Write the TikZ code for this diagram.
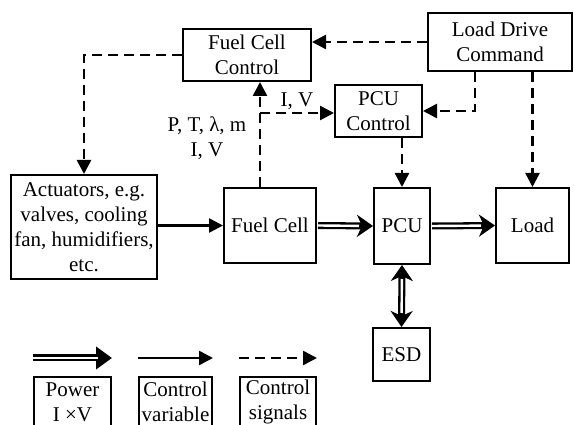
\documentclass[tikz,border=0pt]{standalone}
\usepackage{fontspec}
\setmainfont{Liberation Serif}
\usetikzlibrary{positioning,arrows.meta,calc}
\tikzset{
  node-box/.style={draw,line width=2pt,inner sep=2pt,align=center,
    font=\fontsize{21}{25}\selectfont},
  node-key/.style={node-box,minimum height=50pt},
  arrow-var/.style={-{Triangle[length=14pt,width=14pt]},line width=2.5pt},
  arrow-signal/.style={arrow-var,dash pattern=on 10pt off 6pt},
  % double shaft: thick black line, white core on top
  arrow-power/.style={line width=7pt,-{Stealth[length=16pt,width=22pt,inset=5pt]},
    postaction={draw=white,line width=2.4pt,-,shorten >=14pt,shorten <=0.1pt}},
  arrow-power-both/.style={line width=7pt,
    {Stealth[length=16pt,width=22pt,inset=5pt]}-{Stealth[length=16pt,width=22pt,inset=5pt]},
    postaction={draw=white,line width=2.4pt,-,shorten >=14pt,shorten <=14pt}},
  label-text/.style={font=\fontsize{21}{25}\selectfont,align=center,inner sep=2pt},
}

\begin{document}
\begin{tikzpicture}[x=1pt,y=-1pt,node distance=26pt]
  \useasboundingbox (0,0) rectangle (574,425);
  \clip (0,0) rectangle (574,425);

  % blocks
  \node[node-box,minimum width=128pt,minimum height=52pt] (fcc) at (247,55) {Fuel Cell\\Control};
  \node[node-box,minimum width=144pt,minimum height=58pt] (ldc) at (500,42) {Load Drive\\Command};
  \node[node-box,minimum width=87pt,minimum height=52pt] (pcuc) at (378.5,111) {PCU\\Control};
  \node[node-box,minimum width=146pt,minimum height=104pt] (act) at (84,227)
    {Actuators, e.g.\\valves, cooling\\fan, humidifiers,\\etc.};
  \node[node-box,minimum width=92pt,minimum height=75pt] (fc) at (270,225.5) {Fuel Cell};
  \node[node-box,minimum width=56pt,minimum height=76pt] (pcu) at (402,226) {PCU};
  \node[node-box,minimum width=73pt,minimum height=75pt] (load) at (532.5,225.5) {Load};
  \node[node-box,minimum width=57pt,minimum height=53pt] (esd) at (401.5,354.5) {ESD};

  % control signals
  \draw[arrow-signal] (ldc.west) -- (ldc.west -| fcc.east);
  \draw[arrow-signal] (fcc.west) -| (act.north);
  \coordinate (ldc-pcu) at ($(ldc.south west)!0.33!(ldc.south east)$);
  \draw[arrow-signal] (ldc-pcu) |- (pcuc.east);
  \draw[arrow-signal] (ldc.south -| load.north) -- (load.north);
  \draw[arrow-signal] (pcuc.south -| pcu.north) -- (pcu.north);
  \coordinate (tap) at (260,113);
  \draw[arrow-signal] (tap |- fc.north) -- (tap |- fcc.south);
  \draw[arrow-signal] (tap) -- (tap -| pcuc.west)
    node[midway,above,label-text] (iv) {I, V};
  \node[label-text] (meas) at (207,138) {P, T, λ, m\\I, V};

  % control variable and power
  \draw[arrow-var] (act.east |- fc.west) -- (fc.west);
  \draw[arrow-power] ([xshift=1pt]fc.east) -- (pcu.west);
  \draw[arrow-power] ([xshift=1pt]pcu.east) -- (load.west);
  \draw[arrow-power-both] (pcu.south) -- (esd.north);

  % legend
  \node[node-key,anchor=north west,minimum width=77pt] (key-pw) at (33,376) {Power\\I ×V};
  \node[node-key,right=of key-pw,minimum width=73pt] (key-cv) {Control\\variable};
  \node[node-key,right=of key-cv,minimum width=76pt] (key-cs) {Control\\signals};
  \draw[arrow-power,-{Triangle[length=16pt,width=22pt]}]
    ([yshift=18pt]key-pw.north west) -- ([yshift=18pt]key-pw.north east);
  \draw[arrow-var] ([yshift=18pt]key-cv.north west) -- ([yshift=18pt]key-cv.north east);
  \draw[arrow-signal] ([yshift=18pt]key-cs.north west) -- ([yshift=18pt]key-cs.north east);
\end{tikzpicture}
\end{document}
